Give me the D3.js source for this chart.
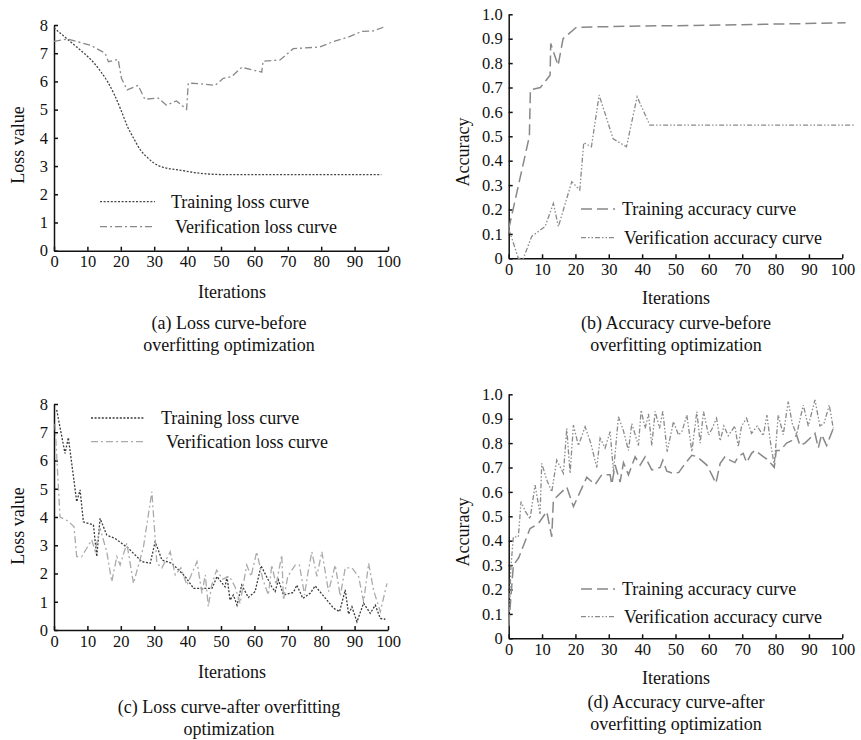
<!DOCTYPE html>
<html>
<head>
<meta charset="utf-8">
<script src="https://cdn.jsdelivr.net/npm/d3@7/dist/d3.min.js"></script>
<style>
  body { margin: 0; background: #fff; }
  text { font-family: "Liberation Serif", "Times New Roman", serif; fill: #111; }
  .axis path, .axis line { stroke: #111; stroke-width: 1.5; }
</style>
</head>
<body>
<div id="chart"></div>
<script>
/* data: [iteration, value] pairs */
var xTicks = [0, 10, 20, 30, 40, 50, 60, 70, 80, 90, 100];
var lossTicks = [0, 1, 2, 3, 4, 5, 6, 7, 8];
var accTicks = [0, 0.1, 0.2, 0.3, 0.4, 0.5, 0.6, 0.7, 0.8, 0.9, 1.0];

var trainLossBefore = [[0,7.9],[3,7.6],[6,7.3],[9,7.0],[12,6.65],[14,6.35],[16,6.0],[18,5.55],[20,5.0],[22,4.4],[24,3.95],[26,3.55],[28,3.3],[30,3.1],[32,2.98],[34,2.92],[38,2.85],[42,2.77],[46,2.72],[50,2.7],[60,2.7],[70,2.7],[80,2.7],[90,2.7],[98,2.7]];
var valLossBefore = [[0,7.42],[4,7.5],[10.8,7.29],[15.3,7.0],[16.3,6.7],[19.2,6.78],[20.2,6.11],[21.9,5.7],[25.2,5.86],[27.2,5.37],[31.2,5.41],[33.7,5.16],[36.7,5.31],[39.7,5.01],[40.2,5.94],[43.7,5.92],[48.2,5.86],[50.7,6.11],[53.2,6.17],[56.2,6.5],[62.2,6.33],[62.6,6.72],[67.7,6.76],[71.6,7.16],[79.6,7.22],[83.6,7.41],[88.1,7.57],[92.1,7.77],[95.6,7.79],[98.6,7.92]];

var trainAccBefore = [[0,0.12],[6.2,0.5],[6.5,0.69],[9.5,0.70],[12.4,0.75],[12.6,0.88],[14.8,0.79],[16.3,0.9],[20.3,0.947],[40,0.952],[60,0.955],[80,0.96],[101,0.965]];
var valAccBefore = [[0,0.12],[0.5,0.1],[2.9,0],[4.4,0],[6.9,0.09],[10.9,0.13],[13.4,0.225],[14.9,0.13],[18.9,0.314],[21.3,0.28],[22.5,0.474],[24.8,0.457],[27.1,0.669],[31.3,0.49],[35.3,0.457],[38.5,0.662],[42.3,0.546],[60,0.546],[80,0.546],[103.5,0.546]];

var trainLossAfter = [[0.8,7.79],[3.3,6.25],[4.3,6.81],[6.8,4.54],[7.8,4.96],[8.8,3.83],[11.8,3.72],[12.8,2.6],[13.8,3.95],[15.8,3.36],[18.3,3.24],[22.3,2.89],[26.3,2.42],[28.8,2.36],[30.3,3.13],[32.3,2.48],[35.3,2.36],[39.3,1.89],[41.8,1.47],[47.3,1.47],[48.8,1.89],[51.2,1.53],[51.8,1.89],[52.7,1.06],[53.7,1.24],[54.8,0.88],[56.2,1.59],[58.2,1.15],[60.2,1.36],[62,2.27],[65.2,1.53],[66.2,1.36],[67.2,1.77],[68.7,1.24],[71.7,1.33],[72.7,1.59],[74.5,1.12],[76.7,1.3],[78.2,1.56],[81.7,1.06],[83.7,0.77],[85.5,0.65],[87.2,1.42],[88.2,0.56],[89.2,0.82],[90.7,0.29],[92.7,0.95],[94.7,0.59],[96.2,0.88],[97.7,0.41],[99.2,0.38]];
var valLossAfter = [[0.3,7.3],[1.8,4.0],[4.3,3.85],[6,3.65],[6.8,2.6],[8.3,2.6],[11.3,3.19],[12.3,2.8],[13.8,3.6],[15.8,2.77],[17.3,1.71],[18.8,2.6],[19.8,2.3],[21.8,3.07],[23.8,1.65],[26.8,2.95],[29.3,4.9],[30.8,2.36],[32.3,2.2],[34.8,2.77],[36.3,1.95],[38,2.2],[39.8,1.59],[42.8,2.42],[44.3,1.3],[45.3,1.95],[46.2,0.83],[47.2,1.59],[48.7,2.12],[50.5,1.8],[52.5,1.9],[54.2,1.53],[55.7,0.94],[57.7,2.3],[59,1.9],[60.7,2.77],[62.5,1.8],[64.2,1.24],[65.2,2.3],[66.5,1.6],[68.2,2.65],[68.7,1.06],[70,1.9],[72.2,2.3],[73.5,2.3],[75,1.24],[76,2.0],[77.2,2.77],[78.7,1.9],[80.2,2.77],[82.2,1.36],[84.2,2.3],[85.7,1.2],[87.2,2.2],[89.2,2.2],[91.2,1.89],[92.7,1.0],[94.2,2.36],[95.7,1.4],[97.7,0.65],[99.7,1.65]];

var trainAccAfter = [[0,0.05],[1.4,0.30],[3,0.33],[6.4,0.45],[8.9,0.47],[11.4,0.52],[12.9,0.416],[13.4,0.567],[17.4,0.62],[19.4,0.54],[23.4,0.66],[25.9,0.63],[27.9,0.67],[30.4,0.67],[30.9,0.63],[31.9,0.71],[33.4,0.64],[34.4,0.72],[35.9,0.67],[37.9,0.744],[39.4,0.71],[40.9,0.744],[42.9,0.69],[45.4,0.70],[46.2,0.73],[47.4,0.685],[49.4,0.675],[51,0.68],[52.9,0.717],[54.9,0.75],[56.4,0.745],[59.4,0.71],[60.9,0.67],[62.1,0.635],[63.4,0.717],[64.8,0.744],[66.3,0.73],[67.8,0.72],[68.8,0.744],[70.3,0.758],[71.3,0.72],[72.8,0.758],[73.8,0.77],[76.3,0.745],[77.8,0.73],[79.6,0.70],[80.2,0.77],[81.4,0.77],[83.3,0.80],[84.8,0.81],[86.3,0.833],[87.3,0.79],[88.8,0.80],[90.3,0.82],[91.8,0.84],[92.8,0.78],[93.8,0.835],[95.3,0.79],[97.3,0.86]];
var valAccAfter = [[0,0.05],[0.7,0.3],[1.4,0.416],[2.9,0.416],[3.7,0.56],[5,0.52],[6.4,0.49],[7.9,0.628],[9.4,0.51],[9.9,0.717],[11.4,0.65],[12.9,0.60],[14.4,0.73],[16.4,0.676],[17.4,0.86],[18.4,0.676],[19.4,0.874],[20.9,0.79],[22.9,0.867],[24.6,0.8],[26.4,0.70],[27.4,0.82],[28.9,0.78],[30.4,0.847],[31.4,0.683],[32.9,0.908],[34.4,0.85],[35.9,0.77],[36.9,0.88],[38.9,0.79],[39.7,0.935],[40.9,0.86],[41.9,0.92],[42.9,0.79],[43.9,0.93],[45.2,0.86],[46.2,0.93],[47.5,0.765],[49.4,0.888],[50.9,0.833],[52,0.85],[53.4,0.915],[54.9,0.765],[56.4,0.929],[57.4,0.8],[58.4,0.929],[59.9,0.833],[61,0.86],[62.3,0.902],[63.4,0.81],[64.5,0.87],[65.8,0.83],[66.8,0.85],[67.8,0.87],[68.8,0.785],[69.8,0.87],[71.3,0.902],[72.8,0.84],[74.5,0.87],[76.3,0.83],[77.4,0.915],[78.5,0.8],[79.6,0.71],[80.8,0.915],[82.3,0.835],[83.8,0.97],[85,0.88],[86.3,0.835],[88.3,0.956],[89.8,0.87],[91.8,0.977],[93.3,0.87],[94.5,0.88],[96.1,0.956],[97.3,0.86]];

/* line styles */
var sDot   = { color: '#444', dash: '2,1.6', width: 1.3 };
var sDotLt = { color: '#3a3a3a', dash: '2,1.6', width: 1.3 };
var sDashDot = { color: '#888', dash: '7,3,2,3', width: 1.3 };
var sDashDotLt = { color: '#aaa', dash: '7,3,2,3', width: 1.3 };
var sLong  = { color: '#888', dash: '11,5', width: 1.5 };
var sDdd   = { color: '#8a8a8a', dash: '5,2,1.5,2,1.5,2', width: 1.3 };

var svg = d3.select('#chart').append('svg')
    .attr('width', 861)
    .attr('height', 740);

function drawPanel(p) {
    var x = d3.scaleLinear().domain([0, 100]).range([p.left, p.right]);
    var y = d3.scaleLinear().domain([0, p.yMax]).range([p.bottom, p.top]);
    var g = svg.append('g');

    g.append('g').attr('class', 'axis')
        .attr('transform', 'translate(0,' + p.bottom + ')')
        .call(d3.axisBottom(x).tickValues(xTicks).tickSizeInner(-4).tickSizeOuter(0).tickPadding(5))
        .selectAll('text').style('font-size', '16.5px').style('font-family', '"Liberation Serif", serif').attr('fill', '#111');

    g.append('g').attr('class', 'axis')
        .attr('transform', 'translate(' + p.left + ',0)')
        .call(d3.axisLeft(y).tickValues(p.yTicks).tickSizeInner(-4).tickSizeOuter(0).tickPadding(6)
            .tickFormat(p.yFmat))
        .selectAll('text').style('font-size', '16.5px').style('font-family', '"Liberation Serif", serif').attr('fill', '#111');

    g.selectAll('.tick line').attr('stroke', '#111');

    var line = d3.line()
        .x(function (d) { return x(d[0]); })
        .y(function (d) { return y(d[1]); });

    p.series.forEach(function (s) {
        g.append('path')
            .datum(s.data)
            .attr('fill', 'none')
            .attr('stroke', s.style.color)
            .attr('stroke-width', s.style.width)
            .attr('stroke-dasharray', s.style.dash)
            .attr('d', s.smooth ? line.curve(d3.curveMonotoneX)(s.data) : line.curve(d3.curveLinear)(s.data));

        // legend entry
        g.append('line')
            .attr('x1', s.lx1).attr('x2', s.lx2)
            .attr('y1', s.ly).attr('y2', s.ly)
            .attr('stroke', s.style.color)
            .attr('stroke-width', s.style.width)
            .attr('stroke-dasharray', s.style.dash);
        g.append('text')
            .attr('x', s.tx).attr('y', s.ly)
            .attr('dy', '0.33em')
            .style('font-size', '18px')
            .text(s.name);
    });

    g.append('text')
        .attr('x', p.xLabX).attr('y', p.xLabY)
        .attr('text-anchor', 'middle')
        .attr('dy', '0.33em')
        .style('font-size', '18px')
        .text('Iterations');

    g.append('text')
        .attr('transform', 'translate(' + p.yLabX + ',' + p.yLabY + ') rotate(-90)')
        .attr('text-anchor', 'middle')
        .attr('dy', '0.33em')
        .style('font-size', '18px')
        .text(p.yLabel);

    p.caption.forEach(function (c, i) {
        g.append('text')
            .attr('x', p.capX).attr('y', p.capY + i * 22)
            .attr('text-anchor', 'middle')
            .attr('dy', '0.33em')
            .style('font-size', '18px')
            .text(c);
    });
}

var accFmt = function (d) { return d === 0 ? '0' : d3.format('.1f')(d); };
var lossFmt = d3.format('d');

drawPanel({
    left: 54, right: 388, top: 25, bottom: 250.7, yMax: 8, yTicks: lossTicks, yFmat: lossFmt,
    yLabel: 'Loss value', yLabX: 18, yLabY: 145, xLabX: 232, xLabY: 292,
    caption: ['(a) Loss curve-before', 'overfitting optimization'], capX: 229, capY: 323,
    series: [
        { name: 'Training loss curve', data: trainLossBefore, style: sDot, smooth: true, lx1: 100, lx2: 155, ly: 201.7, tx: 171 },
        { name: 'Verification loss curve', data: valLossBefore, style: sDashDot, lx1: 100, lx2: 155, ly: 226.7, tx: 175 }
    ]
});

drawPanel({
    left: 508.7, right: 842.3, top: 14.3, bottom: 258.3, yMax: 1, yTicks: accTicks, yFmat: accFmt,
    yLabel: 'Accuracy', yLabX: 463, yLabY: 152, xLabX: 676, xLabY: 298,
    caption: ['(b) Accuracy curve-before', 'overfitting optimization'], capX: 676, capY: 323,
    series: [
        { name: 'Training accuracy curve', data: trainAccBefore, style: sLong, lx1: 581, lx2: 615, ly: 209, tx: 622 },
        { name: 'Verification accuracy curve', data: valAccBefore, style: sDdd, lx1: 581, lx2: 615, ly: 237.7, tx: 624 }
    ]
});

drawPanel({
    left: 54, right: 388, top: 404, bottom: 630, yMax: 8, yTicks: lossTicks, yFmat: lossFmt,
    yLabel: 'Loss value', yLabX: 18, yLabY: 526, xLabX: 232, xLabY: 672,
    caption: ['(c) Loss curve-after overfitting', 'optimization'], capX: 229, capY: 707,
    series: [
        { name: 'Training loss curve', data: trainLossAfter, style: sDotLt, lx1: 91, lx2: 145, ly: 418, tx: 161 },
        { name: 'Verification loss curve', data: valLossAfter, style: sDashDotLt, lx1: 91, lx2: 145, ly: 441.7, tx: 166 }
    ]
});

drawPanel({
    left: 508.7, right: 842.3, top: 394.3, bottom: 638.3, yMax: 1, yTicks: accTicks, yFmat: accFmt,
    yLabel: 'Accuracy', yLabX: 463, yLabY: 532, xLabX: 676, xLabY: 678,
    caption: ['(d) Accuracy curve-after', 'overfitting optimization'], capX: 676, capY: 702,
    series: [
        { name: 'Training accuracy curve', data: trainAccAfter, style: sLong, lx1: 581, lx2: 615, ly: 589, tx: 622 },
        { name: 'Verification accuracy curve', data: valAccAfter, style: sDdd, lx1: 581, lx2: 615, ly: 616.7, tx: 624 }
    ]
});
</script>
</body>
</html>
